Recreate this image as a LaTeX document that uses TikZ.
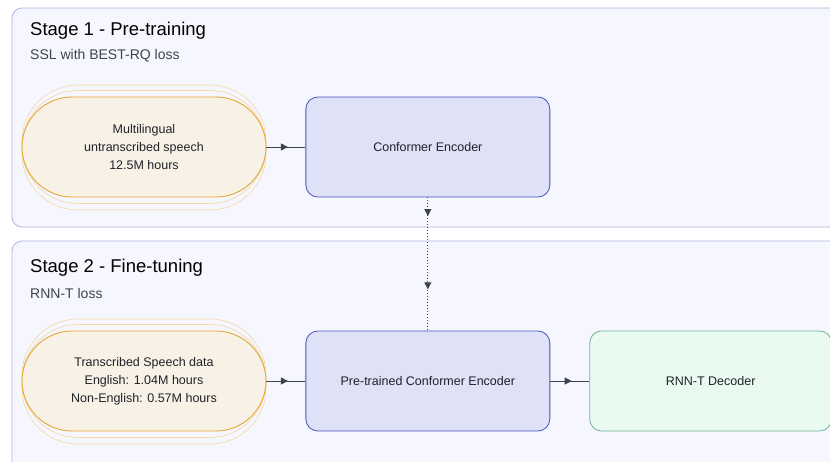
\documentclass[tikz,border=0pt]{standalone}
\usepackage{fontspec}
\setmainfont{Liberation Sans}
\usetikzlibrary{arrows.meta,positioning,decorations.markings}
\definecolor{stagefill}{HTML}{F6F7FE}
\definecolor{stageline}{HTML}{ADB3E3}
\definecolor{datafill}{HTML}{F8F1E6}
\definecolor{dataline}{HTML}{E6A733}
\definecolor{encfill}{HTML}{DFE1F7}
\definecolor{encline}{HTML}{4654B3}
\definecolor{decfill}{HTML}{E9FAF1}
\definecolor{decline}{HTML}{74B19D}
\definecolor{arrowcolor}{HTML}{3B4452}
\definecolor{subcolor}{HTML}{3E4450}
\definecolor{textcolor}{HTML}{1F2229}

\begin{document}
\begin{tikzpicture}[
    x=1pt, y=-1pt,
    node distance=39pt,
    stagebox/.style={draw=stageline, fill=stagefill, rounded corners=10pt, line width=0.8pt},
    title/.style={anchor=west, font=\fontsize{18.5}{22}\selectfont, text=black, inner sep=0pt},
    subtitle/.style={anchor=west, font=\fontsize{14}{17}\selectfont, text=subcolor, inner sep=0pt},
    data/.style={draw=dataline, fill=datafill, line width=0.9pt, rounded corners=50pt,
        minimum width=244pt, minimum height=100pt, align=center, text=textcolor,
        font=\fontsize{12.5}{18}\selectfont},
    dataghost/.style={draw=dataline!45, line width=0.6pt, rounded corners=56pt,
        minimum width=244pt, inner sep=0pt},
    encoder/.style={draw=encline, fill=encfill, rounded corners=12pt, line width=0.8pt,
        minimum width=244pt, minimum height=100pt, text=textcolor,
        font=\fontsize{12.5}{15}\selectfont},
    decoder/.style={draw=decline, fill=decfill, rounded corners=12pt, line width=0.8pt,
        minimum width=242pt, minimum height=100pt, text=textcolor,
        font=\fontsize{12.5}{15}\selectfont},
    midarrow/.style={draw=arrowcolor, line width=0.9pt, postaction={decorate},
        decoration={markings, mark=at position 0.55 with {\arrow{Triangle[length=7pt,width=7pt]}}}},
    linkarrow/.style={draw=arrowcolor, line width=1pt, dotted, postaction={decorate},
        decoration={markings,
            mark=at position 0.14 with {\arrow{Triangle[length=7pt,width=7pt]}},
            mark=at position 0.69 with {\arrow{Triangle[length=7pt,width=7pt]}}}}
]
    \useasboundingbox (0,0) rectangle (830,461);
    \fill[white] (0,0) rectangle (830,461);

    % stage frames
    \draw[stagebox] (12,8) rectangle (850,227);
    \draw[stagebox] (12,241) rectangle (850,475);
    \node[title] (title1) at (30,31) {Stage 1 - Pre-training};
    \node[subtitle] (sub1) at (30,56) {SSL with BEST-RQ loss};
    \node[title] (title2) at (30,268) {Stage 2 - Fine-tuning};
    \node[subtitle] (sub2) at (30,293) {RNN-T loss};

    % stage 1
    \node[dataghost, minimum height=125pt] (rawa) at (144,147.5) {};
    \node[dataghost, minimum height=113pt] (rawb) at (144,147) {};
    \node[data] (raw) at (144,147) {Multilingual\\untranscribed speech\\12.5M hours};
    \node[encoder, right=of raw] (enc) {Conformer Encoder};

    % stage 2
    \node[dataghost, minimum height=125pt] (labela) at (144,381.5) {};
    \node[dataghost, minimum height=113pt] (labelb) at (144,381) {};
    \node[data] (label) at (144,381) {Transcribed Speech data\\English: 1.04M hours\\Non-English: 0.57M hours};
    \node[encoder, right=of label] (pre) {Pre-trained Conformer Encoder};
    \node[decoder, right=of pre] (dec) {RNN-T Decoder};

    \path[midarrow] (raw) -- (enc);
    \path[midarrow] (label) -- (pre);
    \path[midarrow] (pre) -- (dec);
    \path[linkarrow] (enc) -- (pre);
\end{tikzpicture}
\end{document}
